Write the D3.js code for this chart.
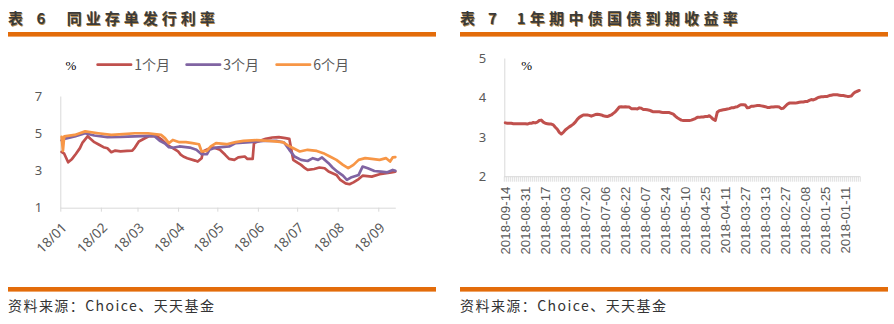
<!DOCTYPE html>
<html>
<head>
<meta charset="utf-8">
<script src="https://cdn.jsdelivr.net/npm/d3@7"></script>
<style>
  body { margin: 0; background: #fff; }
  svg { display: block; }
</style>
</head>
<body>
<svg id="chart" width="894" height="324"></svg>
<script>
// ---- 同业存单发行利率 (%), 2018 ----
const oneMonthDates = ["2018-01-02","2018-01-04","2018-01-07","2018-01-10","2018-01-13","2018-01-16","2018-01-18","2018-01-22","2018-01-24","2018-01-27","2018-01-30","2018-02-03","2018-02-06","2018-02-09","2018-02-12","2018-02-16","2018-02-21","2018-02-25","2018-02-27","2018-03-02","2018-03-07","2018-03-10","2018-03-16","2018-03-20","2018-03-24","2018-03-28","2018-04-01","2018-04-03","2018-04-05","2018-04-08","2018-04-14","2018-04-16","2018-04-19","2018-04-20","2018-04-24","2018-04-28","2018-05-03","2018-05-07","2018-05-10","2018-05-14","2018-05-17","2018-05-22","2018-05-24","2018-05-28","2018-05-29","2018-06-01","2018-06-07","2018-06-12","2018-06-17","2018-06-22","2018-06-25","2018-06-28","2018-06-30","2018-07-04","2018-07-07","2018-07-09","2018-07-14","2018-07-18","2018-07-22","2018-07-25","2018-07-31","2018-08-03","2018-08-07","2018-08-10","2018-08-13","2018-08-17","2018-08-20","2018-08-27","2018-09-02","2018-09-11","2018-09-14"];
const oneMonthRates = [4.00,3.90,3.44,3.62,3.90,4.20,4.50,4.84,4.70,4.52,4.41,4.25,4.19,3.98,4.07,4.03,4.05,4.07,4.23,4.56,4.74,4.85,4.84,4.63,4.36,4.20,4.02,3.85,3.75,3.66,3.53,3.48,3.66,4.02,4.15,4.23,4.11,3.84,3.62,3.57,3.70,3.75,3.62,3.62,4.47,4.56,4.70,4.77,4.79,4.74,4.70,3.57,3.48,3.30,3.12,3.03,3.08,3.16,3.12,2.94,2.76,2.49,2.31,2.26,2.36,2.54,2.72,2.67,2.80,2.90,2.94];

const threeMonthDates = ["2018-01-02","2018-01-04","2018-01-12","2018-01-20","2018-01-27","2018-02-06","2018-02-16","2018-02-27","2018-03-09","2018-03-14","2018-03-18","2018-03-22","2018-03-25","2018-03-28","2018-04-02","2018-04-10","2018-04-15","2018-04-19","2018-04-23","2018-04-25","2018-04-30","2018-05-10","2018-05-15","2018-05-26","2018-06-05","2018-06-15","2018-06-21","2018-06-25","2018-06-29","2018-07-04","2018-07-09","2018-07-13","2018-07-17","2018-07-20","2018-07-25","2018-07-28","2018-08-01","2018-08-05","2018-08-08","2018-08-11","2018-08-17","2018-08-20","2018-08-24","2018-08-29","2018-09-03","2018-09-08","2018-09-12","2018-09-14"];
const threeMonthRates = [4.62,4.70,4.83,5.00,4.88,4.79,4.80,4.83,4.86,4.84,4.59,4.45,4.25,4.22,4.29,4.23,4.11,3.87,3.87,4.11,4.23,4.29,4.47,4.52,4.59,4.59,4.50,4.11,3.75,3.57,3.51,3.66,3.57,3.70,3.39,3.16,2.92,2.72,2.49,2.62,2.76,3.21,3.12,2.97,2.94,2.90,3.03,2.98];

const sixMonthDates = ["2018-01-02","2018-01-03","2018-01-04","2018-01-12","2018-01-20","2018-01-30","2018-02-09","2018-02-18","2018-02-27","2018-03-09","2018-03-19","2018-03-22","2018-03-25","2018-03-28","2018-04-02","2018-04-07","2018-04-12","2018-04-17","2018-04-19","2018-04-23","2018-04-26","2018-04-30","2018-05-08","2018-05-15","2018-05-21","2018-05-31","2018-06-10","2018-06-20","2018-06-24","2018-06-27","2018-07-03","2018-07-09","2018-07-16","2018-07-21","2018-07-26","2018-07-31","2018-08-05","2018-08-09","2018-08-13","2018-08-17","2018-08-22","2018-08-27","2018-09-02","2018-09-07","2018-09-10","2018-09-12","2018-09-14"];
const sixMonthRates = [4.80,4.05,4.83,4.91,5.10,5.00,4.91,4.95,5.00,5.00,4.91,4.74,4.47,4.64,4.52,4.52,4.47,4.41,4.02,4.05,4.29,4.47,4.41,4.52,4.59,4.63,4.59,4.52,4.35,4.23,4.02,4.11,4.05,3.93,3.75,3.57,3.30,3.12,3.30,3.57,3.66,3.62,3.57,3.66,3.48,3.70,3.72];

const rateSeriesNames = ["1个月", "3个月", "6个月"];
const rateTicks = [1, 3, 5, 7];

// ---- 1年期中债国债到期收益率 (%), newest trading day first ----
const yieldValues = [
  3.36,3.35,3.35,3.35,3.34,3.34,3.34,3.34,3.34,3.34,
  3.34,3.33,3.35,3.35,3.37,3.36,3.38,3.42,3.43,3.38,
  3.35,3.34,3.33,3.33,3.31,3.25,3.20,3.12,3.08,3.12,
  3.18,3.22,3.26,3.29,3.33,3.38,3.45,3.50,3.53,3.56,
  3.56,3.56,3.55,3.53,3.55,3.57,3.58,3.57,3.56,3.54,
  3.53,3.52,3.54,3.56,3.60,3.64,3.70,3.76,3.77,3.76,
  3.77,3.76,3.76,3.72,3.72,3.72,3.71,3.74,3.73,3.70,
  3.70,3.69,3.68,3.66,3.64,3.64,3.64,3.64,3.63,3.62,
  3.62,3.62,3.62,3.60,3.58,3.53,3.49,3.46,3.43,3.42,
  3.42,3.42,3.42,3.43,3.45,3.47,3.50,3.50,3.51,3.51,
  3.52,3.52,3.54,3.50,3.45,3.42,3.63,3.67,3.68,3.69,
  3.70,3.71,3.72,3.74,3.74,3.76,3.77,3.80,3.82,3.82,
  3.81,3.74,3.75,3.78,3.78,3.79,3.80,3.80,3.79,3.78,
  3.77,3.75,3.75,3.76,3.76,3.77,3.77,3.76,3.72,3.73,
  3.78,3.83,3.86,3.86,3.86,3.86,3.87,3.88,3.89,3.89,
  3.90,3.90,3.93,3.95,3.94,3.96,3.99,4.01,4.02,4.02,
  4.03,4.03,4.05,4.06,4.07,4.07,4.07,4.06,4.05,4.05,
  4.04,4.03,4.03,4.04,4.10,4.14,4.16,4.18
];
const yieldTickLabels = ["2018-09-14","2018-08-31","2018-08-17","2018-08-03","2018-07-20","2018-07-06","2018-06-22","2018-06-07","2018-05-24","2018-05-10","2018-04-25","2018-04-11","2018-03-27","2018-03-13","2018-02-27","2018-02-08","2018-01-25","2018-01-11"];
const yieldLabelStep = 10;
const yieldTicks = [2, 3, 4, 5];

const colors = { red: "#C0504D", purple: "#8064A2", orange: "#F79646", bar: "#E36C0A", axis: "#D9D9D9", label: "#595959" };
const sansFont = "'Noto Sans', 'Noto Sans CJK SC', sans-serif";
const cjkFont = "'Noto Sans CJK SC', sans-serif";

const svg = d3.select("#chart");
const parse = d3.timeParse("%Y-%m-%d");

// ---------- panel frame: title, orange rules, source note ----------
function panelFrame(x0, x1, tag, tagX, body, bodyX, bodyLen) {
  const g = svg.append("g");
  g.append("rect").attr("x", x0).attr("y", 32).attr("width", x1 - x0).attr("height", 4.6).attr("fill", colors.bar);
  g.append("rect").attr("x", x0).attr("y", 287).attr("width", x1 - x0).attr("height", 4.6).attr("fill", colors.bar);
  const pieces = [["表", x0, null], [tag, tagX, null], [body, bodyX, bodyLen]];
  [["#B58A4A", 0.8], ["#3A3A3A", 0]].forEach(([fill, off]) => {
    pieces.forEach(([t, x, len]) => {
      const tx = g.append("text").attr("x", x + off).attr("y", 24 + off)
        .attr("font-family", cjkFont).attr("font-weight", 700).attr("font-size", 15)
        .attr("fill", fill).text(t);
      if (len) tx.attr("textLength", len).attr("lengthAdjust", "spacing");
    });
  });
  g.append("text").attr("x", x0).attr("y", 311)
    .attr("font-family", cjkFont).attr("font-size", 14).attr("fill", "#333")
    .attr("textLength", 206).attr("lengthAdjust", "spacing")
    .text("资料来源：Choice、天天基金");
}

panelFrame(8, 436, "6", 36.5, "同业存单发行利率", 66.7, 148);
panelFrame(460, 888, "7", 488, "1年期中债国债到期收益率", 516.7, 221);

// ---------- left: 同业存单发行利率 ----------
const left = { x0: 60.3, x1: 395.3, yTop: 96, yBottom: 207.7 };
const xTime = d3.scaleTime()
  .domain([parse("2018-01-01"), parse("2018-09-14")])
  .range([left.x0, left.x1]);
const yRate = d3.scaleLinear().domain([1, 7]).range([left.yBottom, left.yTop]);

const gl = svg.append("g");

const yAxisL = gl.append("g").attr("transform", `translate(${left.x0},0)`)
  .call(d3.axisLeft(yRate).tickValues(rateTicks).tickSize(0).tickPadding(18).tickFormat(d3.format("d")));
yAxisL.select(".domain").attr("stroke", colors.axis);
yAxisL.selectAll("text").attr("font-family", sansFont).attr("font-size", 13).attr("fill", colors.label);

const monthTicks = d3.timeMonth.range(parse("2018-01-01"), parse("2018-09-15"));
const xAxisL = gl.append("g").attr("transform", `translate(0,${left.yBottom})`)
  .call(d3.axisBottom(xTime).tickValues(monthTicks).tickSize(4).tickSizeOuter(0).tickFormat(d3.timeFormat("%y/%m")));
xAxisL.select(".domain").attr("stroke", colors.axis);
xAxisL.selectAll(".tick line").attr("stroke", colors.axis);
xAxisL.selectAll("text")
  .attr("font-family", sansFont).attr("font-size", 13.5).attr("fill", colors.label)
  .attr("text-anchor", "end").attr("x", 0).attr("y", 0).attr("dy", "0.35em")
  .attr("transform", "translate(3.5,17.5) rotate(-45)");

const rateLine = d3.line().x(d => xTime(d[0])).y(d => yRate(d[1]));
const rateSeries = [
  { dates: oneMonthDates, values: oneMonthRates, color: colors.red },
  { dates: threeMonthDates, values: threeMonthRates, color: colors.purple },
  { dates: sixMonthDates, values: sixMonthRates, color: colors.orange }
];
rateSeries.forEach(s => {
  const pts = s.dates.map((d, i) => [parse(d), s.values[i]]);
  gl.append("path").datum(pts).attr("d", rateLine)
    .attr("fill", "none").attr("stroke", s.color).attr("stroke-width", 2.7)
    .attr("stroke-linejoin", "round").attr("stroke-linecap", "round");
});

// legend
gl.append("text").attr("x", 71).attr("y", 65).attr("dy", "0.35em").attr("text-anchor", "middle")
  .attr("font-family", "'Liberation Serif', serif").attr("font-size", 13).attr("fill", "#000").text("%");
const legendX = [97.7, 186.7, 276.7];
rateSeries.forEach((s, i) => {
  gl.append("line").attr("x1", legendX[i]).attr("x2", legendX[i] + 33.3).attr("y1", 64.7).attr("y2", 64.7)
    .attr("stroke", s.color).attr("stroke-width", 2.8).attr("stroke-linecap", "round");
  gl.append("text").attr("x", legendX[i] + 36.5).attr("y", 64.7).attr("dy", "0.35em")
    .attr("font-family", cjkFont).attr("font-size", 14).attr("fill", colors.label).text(rateSeriesNames[i]);
});

// ---------- right: 1年期中债国债到期收益率 ----------
const right = { x0: 504.3, yTop: 58, yBottom: 176.7 };
const xCat = d3.scaleBand().domain(d3.range(yieldValues.length))
  .range([right.x0, right.x0 + 2 * yieldValues.length]);
const yYield = d3.scaleLinear().domain([2, 5]).range([right.yBottom, right.yTop]);

const gr = svg.append("g");
const yAxisR = gr.append("g").attr("transform", `translate(${right.x0},0)`)
  .call(d3.axisLeft(yYield).tickValues(yieldTicks).tickSize(0).tickPadding(18).tickFormat(d3.format("d")));
yAxisR.select(".domain").attr("stroke", colors.axis);
yAxisR.selectAll("text").attr("font-family", sansFont).attr("font-size", 13).attr("fill", colors.label);

// category axis: baseline plus a tick at every category boundary
const boundaries = xCat.domain().map(i => xCat(i)).concat([xCat.range()[1]]);
gr.append("line").attr("x1", xCat.range()[0]).attr("x2", xCat.range()[1])
  .attr("y1", right.yBottom).attr("y2", right.yBottom).attr("stroke", colors.axis);
gr.append("g").selectAll("line").data(boundaries).join("line")
  .attr("x1", d => d).attr("x2", d => d).attr("y1", right.yBottom).attr("y2", right.yBottom + 5)
  .attr("stroke", colors.axis).attr("stroke-width", 0.9);

gr.append("g").selectAll("text").data(yieldTickLabels).join("text")
  .attr("transform", (d, i) => {
    const cx = xCat(i * yieldLabelStep) + xCat.bandwidth() / 2;
    return `translate(${cx},186.5) rotate(-90)`;
  })
  .attr("text-anchor", "end").attr("dy", "0.35em")
  .attr("font-family", "'Liberation Sans', Arial, sans-serif").attr("font-size", 13.3).attr("fill", colors.label)
  .text(d => d);

const yieldLine = d3.line()
  .x((d, i) => xCat(i) + xCat.bandwidth() / 2)
  .y(d => yYield(d));
gr.append("path").datum(yieldValues).attr("d", yieldLine)
  .attr("fill", "none").attr("stroke", colors.red).attr("stroke-width", 3)
  .attr("stroke-linejoin", "round").attr("stroke-linecap", "round");

gr.append("text").attr("x", 526.7).attr("y", 65.5).attr("dy", "0.35em").attr("text-anchor", "middle")
  .attr("font-family", "'Liberation Serif', serif").attr("font-size", 13).attr("fill", "#000").text("%");
</script>
</body>
</html>
